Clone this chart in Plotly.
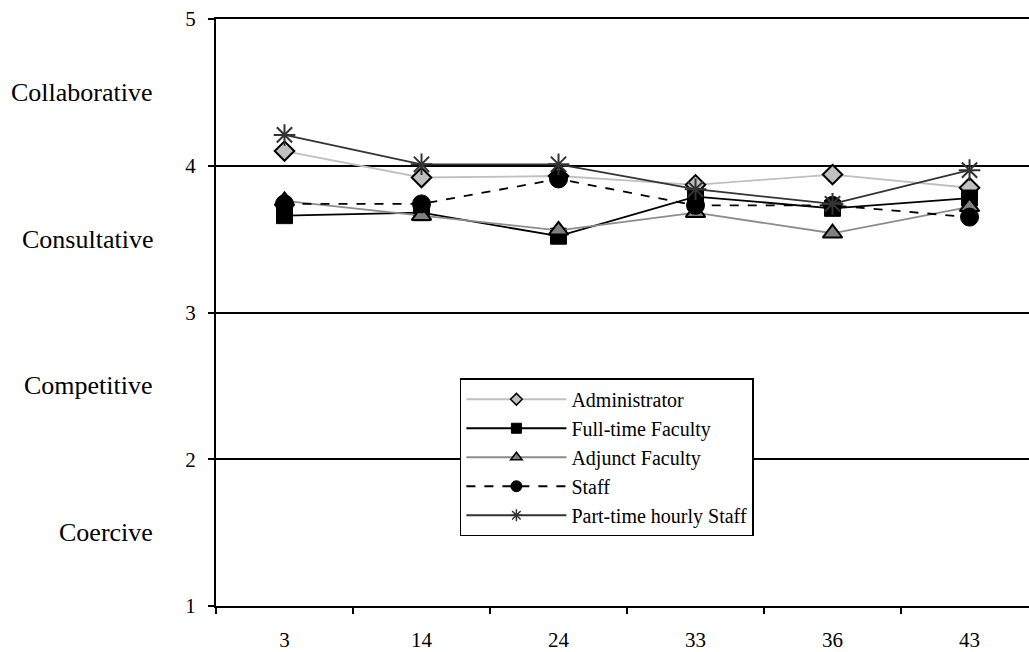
import plotly.graph_objects as go

categories = ["3", "14", "24", "33", "36", "43"]
administrator = [4.10, 3.92, 3.93, 3.87, 3.94, 3.85]
fulltime_faculty = [3.66, 3.68, 3.52, 3.79, 3.71, 3.78]
adjunct_faculty = [3.76, 3.66, 3.56, 3.68, 3.54, 3.72]
staff = [3.74, 3.74, 3.91, 3.73, 3.73, 3.65]
parttime_staff = [4.21, 4.01, 4.01, 3.84, 3.74, 3.97]

y_ticks = [1, 2, 3, 4, 5]
style_labels = ["Coercive", "Competitive", "Consultative", "Collaborative"]
style_positions = [1.5, 2.5, 3.5, 4.5]

FONT = "Liberation Serif, Times New Roman, serif"

series = [
    dict(name="Administrator", y=administrator,
         line=dict(color="#C0C0C0", width=1.8),
         symbol="diamond", size=15, legend_size=9, fill="#C0C0C0", edge="black", edge_w=2),
    dict(name="Full-time Faculty", y=fulltime_faculty,
         line=dict(color="black", width=1.8),
         symbol="square", size=16, legend_size=10, fill="black", edge="black", edge_w=1),
    dict(name="Adjunct Faculty", y=adjunct_faculty,
         line=dict(color="#8C8C8C", width=1.8),
         symbol="triangle-up", size=17, legend_size=10, fill="#808080", edge="black", edge_w=2),
    dict(name="Staff", y=staff,
         line=dict(color="black", width=1.8, dash="dash"),
         symbol="circle", size=18, legend_size=11, fill="black", edge="black", edge_w=1),
    dict(name="Part-time hourly Staff", y=parttime_staff,
         line=dict(color="#333333", width=1.8),
         symbol="asterisk-open", size=18, legend_size=10, fill="#333333", edge="#333333", edge_w=2),
]

fig = go.Figure()

for s in series:
    fig.add_trace(go.Scatter(
        x=categories, y=s["y"], name=s["name"], mode="lines+markers",
        line=s["line"], showlegend=False,
        marker=dict(symbol=s["symbol"], size=s["size"], color=s["fill"],
                    line=dict(color=s["edge"], width=s["edge_w"])),
    ))

# legend entries (smaller legend symbols, as in the original)
for s in series:
    fig.add_trace(go.Scatter(
        x=[None], y=[None], name=s["name"], mode="lines+markers",
        line=s["line"], showlegend=True,
        marker=dict(symbol=s["symbol"], size=s["legend_size"], color=s["fill"],
                    line=dict(color=s["edge"], width=min(s["edge_w"], 1.5))),
    ))

for lbl, pos in zip(style_labels, style_positions):
    fig.add_annotation(
        x=-0.075, xref="paper", y=pos, yref="y", text=lbl, showarrow=False,
        xanchor="right", yanchor="middle", font=dict(family=FONT, size=26, color="black"),
    )

fig.update_layout(
    width=1029, height=652,
    margin=dict(l=216, r=0, t=19, b=46),
    paper_bgcolor="white", plot_bgcolor="white",
    font=dict(family=FONT, color="black"),
    showlegend=True,
    legend=dict(
        x=0.30, y=0.388, xanchor="left", yanchor="top",
        bgcolor="white", bordercolor="black", borderwidth=1.5,
        font=dict(family=FONT, size=20, color="black"),
        tracegroupgap=0, itemwidth=100,
    ),
    xaxis=dict(
        type="category", range=[-0.5, 5.434],
        showline=True, linecolor="black", linewidth=2, mirror=True,
        ticks="outside", tickson="boundaries", ticklen=6, tickwidth=1.5, tickcolor="black",
        showgrid=False, zeroline=False,
        tickfont=dict(family=FONT, size=21, color="black"),
        ticklabelstandoff=14,
    ),
    yaxis=dict(
        range=[1, 5], tickvals=y_ticks, ticktext=[str(v) for v in y_ticks],
        showline=True, linecolor="black", linewidth=2,
        ticks="outside", ticklen=6, tickwidth=1.5, tickcolor="black",
        showgrid=True, gridcolor="black", gridwidth=2, zeroline=False,
        tickfont=dict(family=FONT, size=21, color="black"),
        ticklabelstandoff=8,
    ),
)

fig.write_html(
    "out.html",
    config={"displayModeBar": False},
    post_script="document.body.style.margin='0';document.body.style.overflow='hidden';",
)
